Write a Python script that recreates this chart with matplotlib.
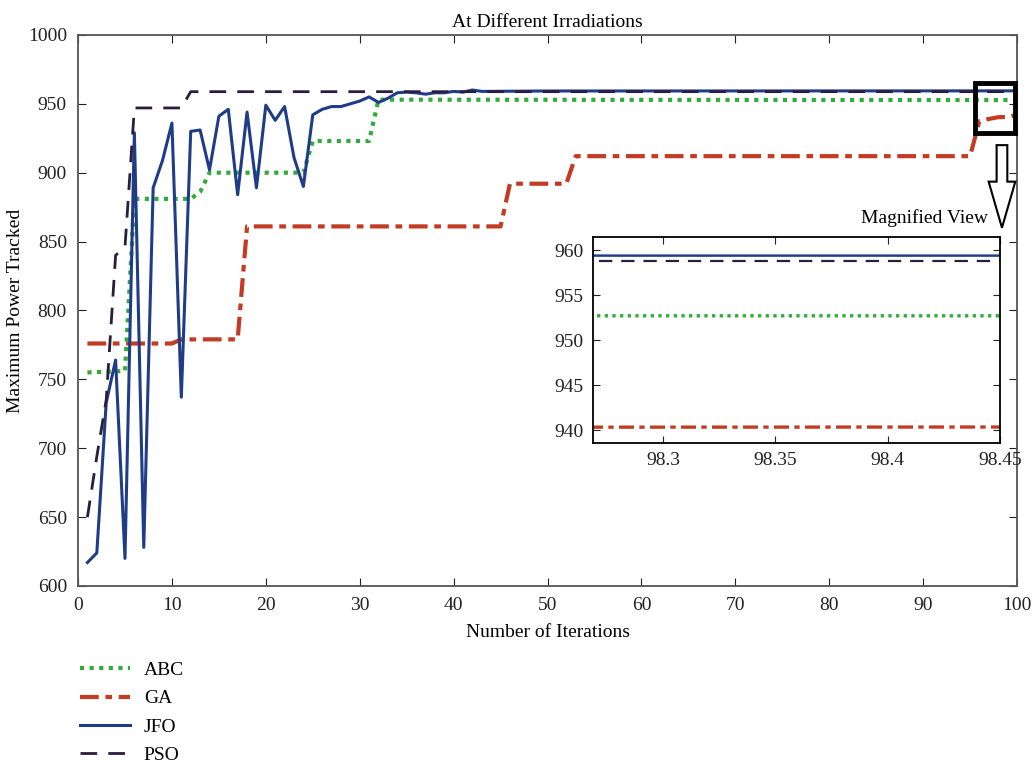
import matplotlib
matplotlib.use("Agg")
import matplotlib.pyplot as plt
from matplotlib.patches import Rectangle, Polygon

plt.rcParams['font.family'] = ['Liberation Serif', 'DejaVu Serif']

# data (iteration, tracked power)
abc_it = [1, 5, 6, 12, 13, 14, 24, 25, 31, 32, 100]
abc_val = [755, 756, 881, 881, 886, 900, 900, 923, 923, 953, 952.7]

ga_it = [1, 10, 11, 17, 18, 45, 46, 52, 53, 95, 96, 97, 98, 99, 100]
ga_val = [776, 776, 779, 779, 861, 861, 892, 892, 912, 912, 937.5, 939, 940.3, 940.4, 942]

jfo_it = list(range(1, 44)) + [50, 100]
jfo_val = [617, 624, 733, 764, 620, 929, 628, 889, 909, 936,
           737, 930, 931, 902, 941, 946, 884, 944, 889, 949,
           938, 948, 911, 890, 942, 946, 948, 948, 950, 952,
           955, 951, 954, 958, 958.5, 958, 957, 958, 958, 959,
           958.5, 960, 959, 959.3, 959.4]

pso_it = [1, 2, 3, 4, 5, 6, 11, 12, 100]
pso_val = [650, 694, 735, 840, 846, 947, 947, 958.8, 958.8]

names = ['ABC', 'GA', 'JFO', 'PSO']
colors = ['#33aa3c', '#c23b22', '#1f3c88', '#2b1d3f']

fig = plt.figure(figsize=(10.35, 7.71), dpi=100)
ax = fig.add_axes([0.0754, 0.24, 0.9072, 0.7147])


def draw(a, lwscale=1.0):
    a.plot(abc_it, abc_val, color=colors[0], lw=3*lwscale, dashes=(1, 1.3), label=names[0])
    a.plot(ga_it, ga_val, color=colors[1], lw=3*lwscale, dashes=(4.5, 1.6, 1.6, 1.6), label=names[1])
    a.plot(jfo_it, jfo_val, color=colors[2], lw=2.2*lwscale, label=names[2])
    a.plot(pso_it, pso_val, color=colors[3], lw=2*lwscale, dashes=(6, 4), label=names[3])


draw(ax)
ax.set_xlim(0, 100)
ax.set_ylim(600, 1000)
ax.set_xticks(range(0, 101, 10))
ax.set_yticks(range(600, 1001, 50))
ax.tick_params(direction='in', top=True, right=True, length=6, pad=8, labelsize=14, colors='#222222')
for s in ax.spines.values():
    s.set_color('#555555')
    s.set_linewidth(1.3)
ax.set_title('At Different Irradiations', fontsize=14, pad=6)
ax.set_xlabel('Number of Iterations', fontsize=14, labelpad=7)
ax.set_ylabel('Maximum Power Tracked', fontsize=14, labelpad=3)

# zoom box and hollow arrow
ax.add_patch(Rectangle((95.5, 928.6), 4.3, 36.3, fill=False, ec='black', lw=3.5, clip_on=False, zorder=5))
cx = 98.4
arrow = [(cx - 0.57, 920), (cx + 0.57, 920), (cx + 0.57, 893.5), (cx + 1.42, 893.5),
         (cx, 860), (cx - 1.42, 893.5), (cx - 0.57, 893.5)]
ax.add_patch(Polygon(arrow, closed=True, fc='white', ec='black', lw=1.5, clip_on=False, zorder=6))

fig.text(0.9546, 0.717, 'Magnified View', ha='right', va='center', fontsize=14)

# inset
ins = fig.add_axes([0.5733, 0.4258, 0.393, 0.2672])
draw(ins, 0.8)
ins.set_xlim(98.269, 98.45)
ins.set_ylim(938.6, 961.5)
ins.set_xticks([98.3, 98.35, 98.4, 98.45])
ins.set_xticklabels(['98.3', '98.35', '98.4', '98.45'])
ins.set_yticks(range(940, 961, 5))
ins.tick_params(direction='in', top=True, right=True, length=5, pad=7, labelsize=14, colors='#222222')
for s in ins.spines.values():
    s.set_color('black')
    s.set_linewidth(1.3)

h, l = ax.get_legend_handles_labels()
fig.legend(h, l, loc='upper left', bbox_to_anchor=(0.077, 0.142), frameon=False,
           fontsize=14, handlelength=2.6, handletextpad=0.7, labelspacing=0.55,
           borderpad=0, borderaxespad=0)

fig.savefig('out.png', dpi=100)
